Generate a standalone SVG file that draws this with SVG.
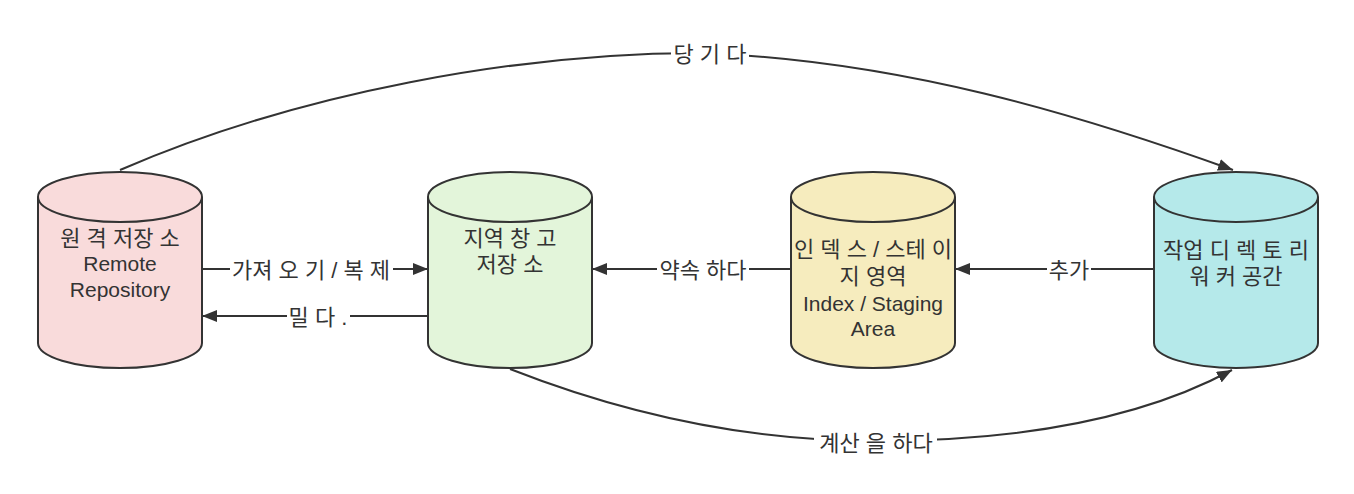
<svg xmlns="http://www.w3.org/2000/svg" width="1354" height="494" viewBox="0 0 1354 494">
<style>
.t{font-family:"Liberation Sans","Noto Sans CJK KR",sans-serif;font-size:22px;fill:#333;text-anchor:middle}
.l{font-size:21px}
.cyl{stroke:#333;stroke-width:2}
.arc{fill:none;stroke:#333;stroke-width:2}
.edge{fill:none;stroke:#333;stroke-width:2}
.bg{fill:#fff}
</style>
<defs>
<marker id="ah" viewBox="0 0 15 12" refX="15" refY="6" markerWidth="15" markerHeight="12" markerUnits="userSpaceOnUse" orient="auto">
<path d="M0,0 L15,6 L0,12 z" fill="#333"/>
</marker>
</defs>
<rect width="1354" height="494" fill="#fff"/>
<g id="connectors">
<path class="edge" d="M202,269 H428" marker-end="url(#ah)"/>
<path class="edge" d="M428,316 H202" marker-end="url(#ah)"/>
<path class="edge" d="M791,269 H592" marker-end="url(#ah)"/>
<path class="edge" d="M1154,269 H955" marker-end="url(#ah)"/>
<path class="edge" d="M120,170 C300,92 520,53 700,53 C900,60 1080,115 1233,170" marker-end="url(#ah)"/>
<path class="edge" d="M510,369 C640,420 760,441 875,441 C1000,441 1130,425 1232,370" marker-end="url(#ah)"/>
<rect class="bg" x="230" y="256" width="163" height="28"/>
<text class="t" x="311" y="278">가져 오 기 / 복 제</text>
<rect class="bg" x="287" y="303" width="63" height="28"/>
<text class="t" x="318" y="325">밀 다 .</text>
<rect class="bg" x="657" y="256" width="92" height="28"/>
<text class="t" x="703" y="278">약속 하다</text>
<rect class="bg" x="1047" y="256" width="44" height="28"/>
<text class="t" x="1069" y="278">추가</text>
<rect class="bg" x="671" y="40" width="78" height="28"/>
<text class="t" x="710" y="62">당 기 다</text>
<rect class="bg" x="814" y="429" width="123" height="28"/>
<text class="t" x="876" y="451">계산 을 하다</text>
</g>
<g id="remote">
<path class="cyl" fill="#f9dbdb" d="M38,197 A82,25 0 0 1 202,197 V343 A82,25 0 0 1 38,343 Z"/>
<path class="arc" d="M38,197 A82,25 0 0 0 202,197"/>
<text class="t" x="120" y="246">원 격 저장 소</text>
<text class="t l" x="120" y="271">Remote</text>
<text class="t l" x="120" y="297">Repository</text>
</g>
<g id="local">
<path class="cyl" fill="#e3f5da" d="M428,197 A82,25 0 0 1 592,197 V343 A82,25 0 0 1 428,343 Z"/>
<path class="arc" d="M428,197 A82,25 0 0 0 592,197"/>
<text class="t" x="510" y="246">지역 창 고</text>
<text class="t" x="510" y="272">저장 소</text>
</g>
<g id="index">
<path class="cyl" fill="#f6ecbe" d="M791,197 A82,25 0 0 1 955,197 V343 A82,25 0 0 1 791,343 Z"/>
<path class="arc" d="M791,197 A82,25 0 0 0 955,197"/>
<text class="t" x="873" y="257">인 덱 스 / 스테 이</text>
<text class="t" x="873" y="284">지 영역</text>
<text class="t l" x="873" y="311">Index / Staging</text>
<text class="t l" x="873" y="336">Area</text>
</g>
<g id="working">
<path class="cyl" fill="#b5e9ea" d="M1154,197 A82,25 0 0 1 1318,197 V343 A82,25 0 0 1 1154,343 Z"/>
<path class="arc" d="M1154,197 A82,25 0 0 0 1318,197"/>
<text class="t" x="1236" y="258">작업 디 렉 토 리</text>
<text class="t" x="1236" y="284">워 커 공간</text>
</g>
</svg>
